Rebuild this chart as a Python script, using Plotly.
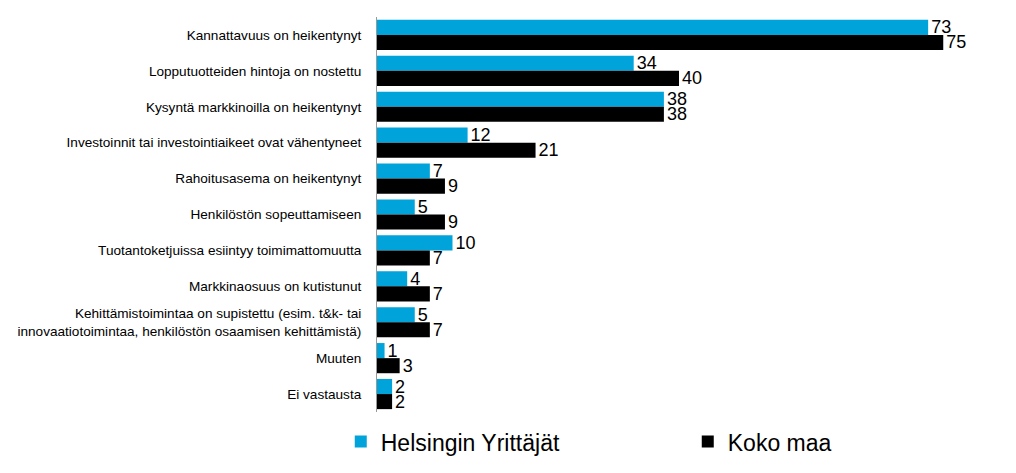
import plotly.graph_objects as go

categories = [
    "Kannattavuus on heikentynyt",
    "Lopputuotteiden hintoja on nostettu",
    "Kysyntä markkinoilla on heikentynyt",
    "Investoinnit tai investointiaikeet ovat vähentyneet",
    "Rahoitusasema on heikentynyt",
    "Henkilöstön sopeuttamiseen",
    "Tuotantoketjuissa esiintyy toimimattomuutta",
    "Markkinaosuus on kutistunut",
    "Kehittämistoimintaa on supistettu (esim. t&k- tai<br>innovaatiotoimintaa, henkilöstön osaamisen kehittämistä)",
    "Muuten",
    "Ei vastausta",
]
helsinki = [73, 34, 38, 12, 7, 5, 10, 4, 5, 1, 2]
koko_maa = [75, 40, 38, 21, 9, 9, 7, 7, 7, 3, 2]

lblfont = dict(family="Liberation Sans Narrow, Arial Narrow, Liberation Sans", size=18, color="#000")

fig = go.Figure()
fig.add_trace(go.Bar(
    y=categories, x=helsinki, orientation="h", name="Helsingin Yrittäjät",
    marker=dict(color="#00A3DA", line=dict(width=0)),
    text=helsinki, textposition="outside", cliponaxis=False, constraintext="none",
    textfont=lblfont,
))
fig.add_trace(go.Bar(
    y=categories, x=koko_maa, orientation="h", name="Koko maa",
    marker=dict(color="#000000", line=dict(width=0)),
    text=koko_maa, textposition="outside", cliponaxis=False, constraintext="none",
    textfont=lblfont,
))

fig.update_layout(
    width=1008, height=465,
    margin=dict(l=369, r=35, t=9, b=61, autoexpand=False),
    barmode="group", bargap=0.16, bargroupgap=0,
    plot_bgcolor="white", paper_bgcolor="white",
    font=dict(family="Liberation Sans, Arial", color="#000"),
    showlegend=True,
    legend=dict(orientation="h", x=-0.06, xanchor="left", y=-0.075, yanchor="middle",
                font=dict(size=23, family="Liberation Sans Narrow, Arial Narrow, Liberation Sans"),
                entrywidth=302, entrywidthmode="pixels", itemwidth=30, traceorder="normal"),
)
fig.update_xaxes(range=[0, 80], visible=False)
fig.update_yaxes(autorange="reversed", showline=True, linecolor="#999", linewidth=1,
                 ticks="", tickfont=dict(size=13.6, color="#000"), ticklabelstandoff=12,
                 showgrid=False, automargin=False)

fig.write_html("out.html")
